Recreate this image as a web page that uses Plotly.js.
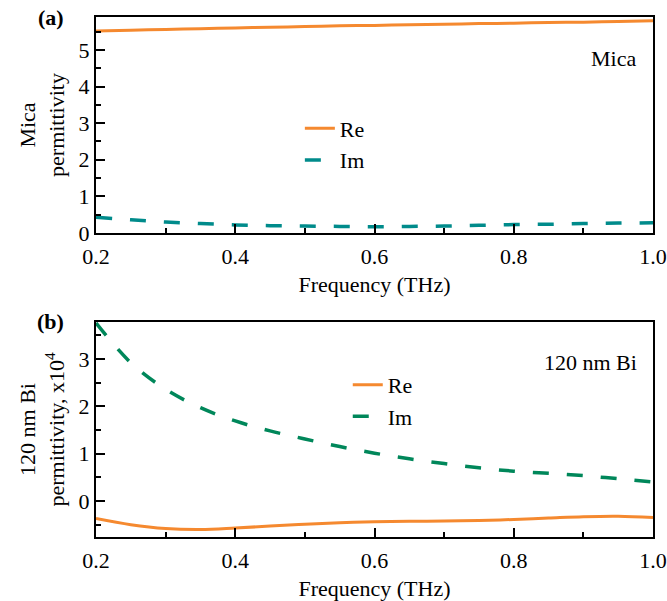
<!DOCTYPE html>
<html>
<head>
<meta charset="utf-8">
<script src="https://cdn.plot.ly/plotly-3.0.1.min.js"></script>
<style>body{margin:0;padding:0;background:#fff;}#chart{width:667px;height:601px;}</style>
</head>
<body>
<div id="chart"></div>
<script>
const freqA = [0.2, 0.25, 0.3, 0.35, 0.4, 0.45, 0.5, 0.55, 0.6, 0.65, 0.7, 0.75, 0.8, 0.85, 0.9, 0.95, 1.0];
const micaRe = [5.52, 5.54, 5.56, 5.58, 5.60, 5.62, 5.64, 5.66, 5.67, 5.69, 5.70, 5.72, 5.73, 5.75, 5.76, 5.78, 5.80];
const micaIm = [0.43, 0.36, 0.30, 0.26, 0.22, 0.20, 0.19, 0.18, 0.17, 0.18, 0.19, 0.21, 0.23, 0.24, 0.26, 0.27, 0.28];

const freqB = [0.2, 0.25, 0.3, 0.35, 0.4, 0.45, 0.5, 0.55, 0.6, 0.65, 0.7, 0.75, 0.8, 0.85, 0.9, 0.95, 1.0];
const biRe = [-0.37, -0.50, -0.58, -0.60, -0.57, -0.53, -0.49, -0.46, -0.44, -0.43, -0.42, -0.41, -0.39, -0.36, -0.33, -0.32, -0.35];
const biIm = [3.76, 2.92, 2.36, 1.97, 1.69, 1.48, 1.31, 1.15, 1.01, 0.89, 0.79, 0.70, 0.63, 0.585, 0.535, 0.47, 0.40];

const orange = '#F5892F';
const teal = '#008B8B';
const green = '#00875A';
const font = "'Liberation Serif', 'Times New Roman', serif";
const fs = 22;

const traces = [
  {x: freqA, y: micaRe, name: 'Re', type: 'scatter', mode: 'lines', line: {color: orange, width: 3, shape: 'spline'}, xaxis: 'x', yaxis: 'y', legend: 'legend'},
  {x: freqA, y: micaIm, name: 'Im', type: 'scatter', mode: 'lines', line: {color: teal, width: 3.5, dash: '16px,18px', shape: 'spline'}, xaxis: 'x', yaxis: 'y', legend: 'legend'},
  {x: freqB, y: biRe, name: 'Re', type: 'scatter', mode: 'lines', line: {color: orange, width: 3, shape: 'spline'}, xaxis: 'x2', yaxis: 'y2', legend: 'legend2'},
  {x: freqB, y: biIm, name: 'Im', type: 'scatter', mode: 'lines', line: {color: green, width: 3.5, dash: '16px,18px', shape: 'spline'}, xaxis: 'x2', yaxis: 'y2', legend: 'legend2'}
];

function xax(anchor) {
  return {
    anchor: anchor, range: [0.2, 1.0], dtick: 0.2, tick0: 0.2, tickformat: '.1f',
    ticks: 'inside', ticklen: 9, tickwidth: 2, tickcolor: '#000', ticklabelstandoff: 3,
    minor: {dtick: 0.1, ticks: 'inside', ticklen: 5, tickwidth: 2, tickcolor: '#000'},
    showline: true, linewidth: 2, linecolor: '#000', mirror: true,
    showgrid: false, zeroline: false,
    tickfont: {family: font, size: fs, color: '#000'},
    title: {text: 'Frequency (THz)', font: {family: font, size: fs, color: '#000'}, standoff: 8}
  };
}
function yax(anchor, range, domain, title) {
  return {
    anchor: anchor, range: range, domain: domain, dtick: 1, tick0: 0,
    ticks: 'inside', ticklen: 9, tickwidth: 2, tickcolor: '#000',
    minor: {dtick: 0.5, ticks: 'inside', ticklen: 5, tickwidth: 2, tickcolor: '#000'},
    showline: true, linewidth: 2, linecolor: '#000', mirror: true,
    showgrid: false, zeroline: false,
    tickfont: {family: font, size: fs, color: '#000'},
    title: {text: title, font: {family: font, size: fs, color: '#000'}, standoff: 8}
  };
}

const layout = {
  width: 667, height: 601,
  margin: {l: 96, r: 14, t: 17, b: 64},
  paper_bgcolor: '#fff', plot_bgcolor: '#fff',
  font: {family: font, size: fs, color: '#000'},
  showlegend: true,
  xaxis: Object.assign(xax('y'), {domain: [0, 1]}),
  yaxis: yax('x', [0, 5.9], [0.5846, 1], 'Mica<br>permittivity'),
  xaxis2: Object.assign(xax('y2'), {domain: [0, 1]}),
  yaxis2: yax('x2', [-0.76, 3.78], [0, 0.4135], '120 nm Bi<br>permittivity, x10<sup>4</sup>'),
  legend: {x: 0.366, y: 0.826, xanchor: 'left', yanchor: 'top', bgcolor: 'rgba(0,0,0,0)', font: {family: font, size: fs, color: '#000'}, tracegroupgap: 0},
  legend2: {x: 0.452, y: 0.333, xanchor: 'left', yanchor: 'top', bgcolor: 'rgba(0,0,0,0)', font: {family: font, size: fs, color: '#000'}, tracegroupgap: 0},
  annotations: [
    {text: 'Mica', xref: 'paper', yref: 'paper', x: 0.973, y: 0.921, xanchor: 'right', yanchor: 'middle', showarrow: false, font: {family: font, size: fs, color: '#000'}},
    {text: '120 nm Bi', xref: 'paper', yref: 'paper', x: 0.975, y: 0.3365, xanchor: 'right', yanchor: 'middle', showarrow: false, font: {family: font, size: fs, color: '#000'}},
    {text: '<b>(a)</b>', xref: 'paper', yref: 'paper', x: -0.081, y: 1.0, xanchor: 'center', yanchor: 'middle', showarrow: false, font: {family: font, size: fs, color: '#000'}},
    {text: '<b>(b)</b>', xref: 'paper', yref: 'paper', x: -0.081, y: 0.4135, xanchor: 'center', yanchor: 'middle', showarrow: false, font: {family: font, size: fs, color: '#000'}}
  ]
};

Plotly.newPlot('chart', traces, layout, {displayModeBar: false, staticPlot: true});
</script>
</body>
</html>
